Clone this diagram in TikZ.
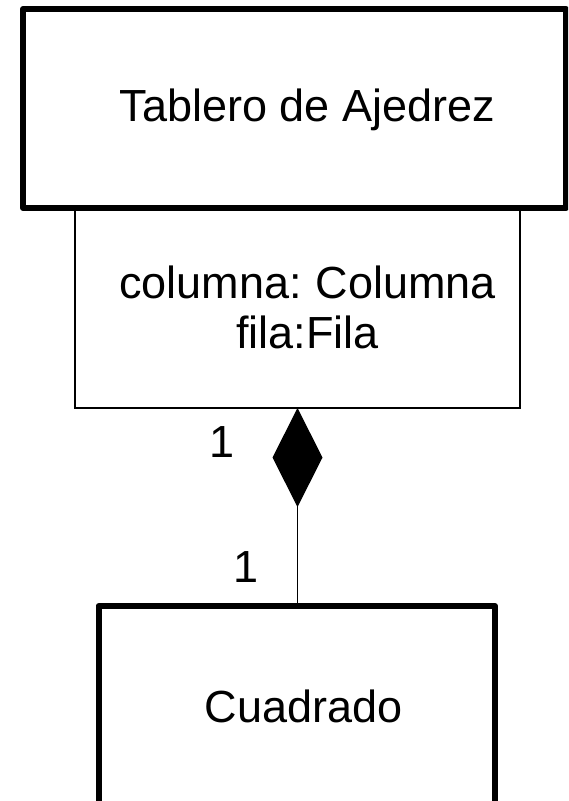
\documentclass[tikz,border=0pt]{standalone}
\usepackage{fontspec}
\setmainfont{Liberation Sans}
\usetikzlibrary{arrows.meta}

\begin{document}
\begin{tikzpicture}[x=1pt,y=-1pt,
    classbox/.style={rectangle,draw,line width=6pt,line join=round,outer sep=0pt},
    attrbox/.style={rectangle,draw,line width=1.2pt,outer sep=0pt},
    classtext/.style={font=\fontsize{45}{50}\selectfont,align=center,inner sep=0pt}]
    \useasboundingbox (0,0) rectangle (568,801);
    \clip (0,0) rectangle (568,801);
    % Nodes
    \node (atributos) at (297.5,308) [attrbox,minimum width=445,minimum height=200] {};
    \node (tablero) at (294.5,108.5) [classbox,minimum width=543,minimum height=199] {};
    \node (cuadrado) at (296.75,706) [classbox,minimum width=396.5,minimum height=200] {};
    \node (tablerotxt) at (307.5,110) [classtext] {Tablero de Ajedrez};
    \node (atributostxt) at (307.5,307) [classtext] {columna:\hspace{-3pt} Columna\\fila:Fila};
    \node (cuadradotxt) at (303.5,706) [classtext] {Cuadrado};
    \node (mult1) at (222,442) [classtext] {1};
    \node (mult2) at (246,567) [classtext] {1};
    % Edges
    \draw[line width=1.2pt,-{Diamond[length=99pt,width=50pt]}] (cuadrado.north -| atributos.south) -- (atributos.south);
\end{tikzpicture}
\end{document}
